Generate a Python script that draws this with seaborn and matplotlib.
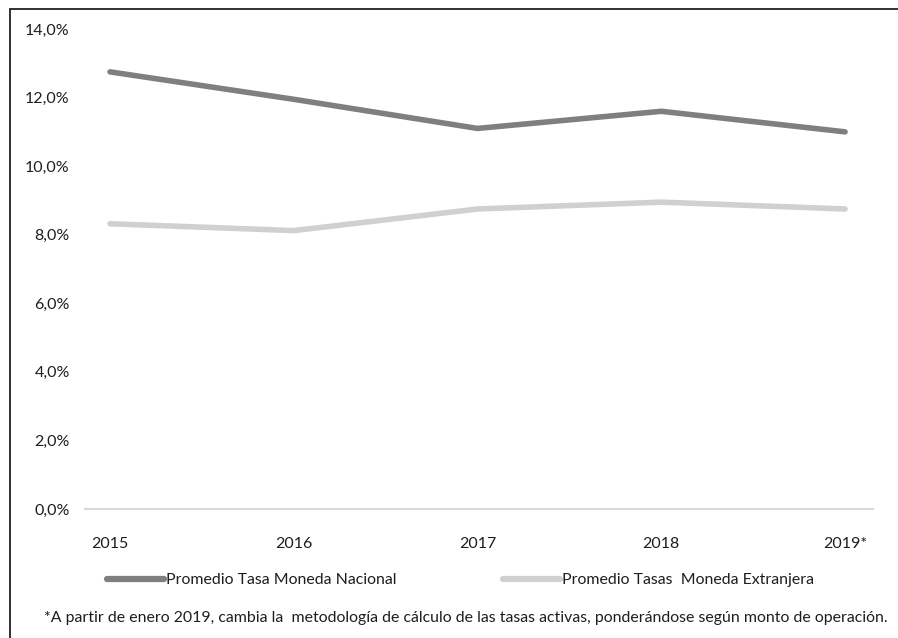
import matplotlib
matplotlib.use("Agg")
import matplotlib.pyplot as plt
from matplotlib.ticker import FuncFormatter
from matplotlib.lines import Line2D
import seaborn as sns
import pandas as pd

years = ["2015", "2016", "2017", "2018", "2019*"]
tasa_nacional = [12.75, 11.95, 11.10, 11.60, 11.00]
tasa_extranjera = [8.32, 8.12, 8.75, 8.95, 8.75]
serie_nacional = "Promedio Tasa Moneda Nacional"
serie_extranjera = "Promedio Tasas  Moneda Extranjera"
nota = ("*A partir de enero 2019, cambia la  metodología de cálculo de las tasas activas, "
        "ponderándose según monto de operación.")

color_nacional = "#7f7f80"
color_extranjera = "#d0d0d1"
text_color = "#1e1e1e"

sns.set_theme(style="white")
plt.rcParams["font.family"] = ["Lato", "DejaVu Sans"]

df = pd.DataFrame({
    "pos": list(range(len(years))) * 2,
    "valor": tasa_nacional + tasa_extranjera,
    "serie": [serie_nacional] * len(years) + [serie_extranjera] * len(years),
})

W, H = 898, 638
fig = plt.figure(figsize=(W / 100, H / 100), dpi=100)
ax = fig.add_axes([85 / W, 1 - 509 / H, (873 - 85) / W, (509 - 29) / H])

sns.lineplot(data=df, x="pos", y="valor", hue="serie",
             palette={serie_nacional: color_nacional, serie_extranjera: color_extranjera},
             linewidth=4.0, ax=ax, legend=False, solid_capstyle="round")

ax.set_xlim(-0.136, 4.152)
ax.set_ylim(0, 14)
ax.set_yticks(range(0, 15, 2))
ax.yaxis.set_major_formatter(FuncFormatter(lambda v, p: f"{v:.1f}%".replace(".", ",")))
ax.set_xticks(range(len(years)))
ax.set_xticklabels(years)
ax.set_xlabel("")
ax.set_ylabel("")
for s in ["top", "right", "left"]:
    ax.spines[s].set_visible(False)
ax.spines["bottom"].set_color("#d9d9d9")
ax.spines["bottom"].set_linewidth(1.5)
ax.tick_params(axis="both", length=0, labelsize=11.5, colors=text_color)
ax.tick_params(axis="y", pad=11)
ax.tick_params(axis="x", pad=20)

# legend entries below the plot, one per series
for label, color, x0 in [(serie_nacional, color_nacional, 107),
                         (serie_extranjera, color_extranjera, 503)]:
    h = Line2D([0], [0], color=color, lw=4.5, solid_capstyle="round")
    fig.legend([h], [label], loc="center left",
               bbox_to_anchor=(x0 / W, 1 - 580 / H), frameon=False,
               fontsize=11.4, handlelength=3.6, handletextpad=0.1,
               borderpad=0, borderaxespad=0, labelcolor=text_color)

# footnote, scaled to its line width
foot = fig.text(466 / W, 1 - 618 / H, nota, ha="center", va="center",
                fontsize=11, color=text_color)
renderer = fig.canvas.get_renderer()
w = foot.get_window_extent(renderer).width
foot.set_fontsize(11 * 843 / w)

# outer frame
fig.add_artist(plt.Rectangle((9.5 / W, -0.1), 1.2, 1.1 - 9.5 / H,
                             transform=fig.transFigure, fill=False,
                             edgecolor="#222222", linewidth=1.3))

fig.savefig("out.png", dpi=100)
